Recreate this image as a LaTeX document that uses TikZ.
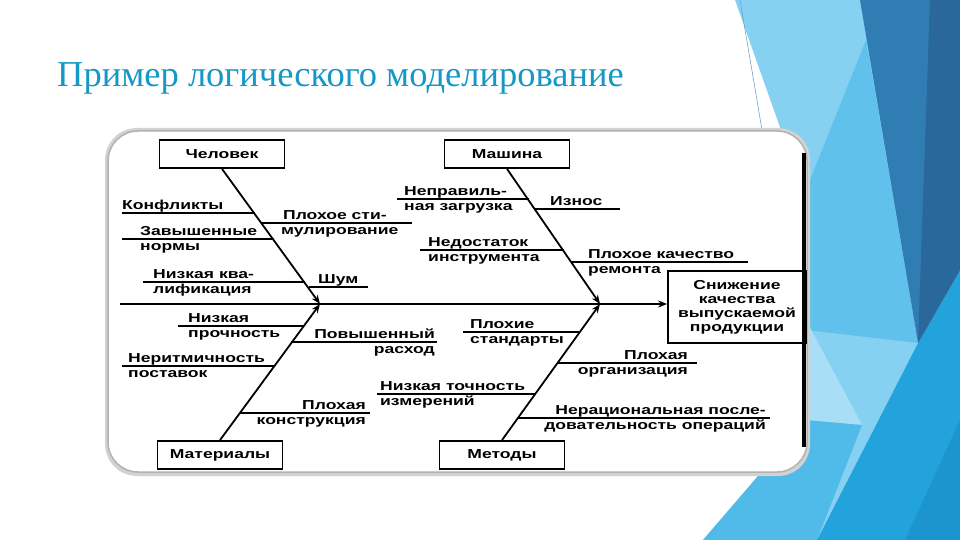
\documentclass[tikz,border=0pt]{standalone}
\usepackage{fontspec}
\usepackage{xcolor}
\usepackage{tikz}
\usetikzlibrary{arrows.meta, positioning, calc}

\newfontfamily\titlefont{Liberation Serif}
\newfontfamily\scanfont[FakeStretch=1.35]{Liberation Sans Bold}

\definecolor{titleblue}{RGB}{22,152,198}
\definecolor{paleblue}{RGB}{168,222,246}
\definecolor{lightblue}{RGB}{134,209,242}
\definecolor{skyblue}{RGB}{96,193,236}
\definecolor{lowblue}{RGB}{80,187,232}
\definecolor{brightblue}{RGB}{34,163,219}
\definecolor{edgeblue}{RGB}{28,149,207}
\definecolor{midblue}{RGB}{48,125,179}
\definecolor{deepblue}{RGB}{42,103,155}

\begin{document}
\begin{tikzpicture}[x=1pt, y=-1pt]
% Define styles
\tikzstyle{catbox} = [rectangle, draw=black, line width=1.8pt, minimum width=125pt, minimum height=28pt, inner sep=2pt, font=\scanfont\fontsize{13}{14}\selectfont]
\tikzstyle{effectbox} = [rectangle, draw=black, line width=1.8pt, minimum width=138pt, minimum height=72pt, inner sep=2pt, align=center, font=\scanfont\fontsize{13}{14}\selectfont]
\tikzstyle{lbl} = [inner sep=0pt, text height=9.5pt, text depth=2.5pt, font=\scanfont\fontsize{13}{14}\selectfont]
\tikzstyle{bone} = [line width=1.8pt, ->, >={Stealth[length=9pt, width=7pt]}]
\tikzstyle{twig} = [line width=1.6pt]

\useasboundingbox (0,0) rectangle (960,540);

% Slide background
\fill[lightblue] (735,0) -- (862,0) -- (918,343) -- (817,540) -- (703,540) -- (807,420) -- (800,157) -- (782,133) -- cycle;
\fill[skyblue] (866,40) -- (918,343) -- (806,330) -- (806,190) -- cycle;
\fill[paleblue] (806,320) -- (862,425) -- (806,470) -- cycle;
\fill[lowblue] (703,540) -- (806,420) -- (862,425) -- (817,540) -- cycle;
\fill[brightblue] (817,540) -- (918,343) -- (960,270) -- (960,540) -- cycle;
\fill[edgeblue] (905,540) -- (960,420) -- (960,540) -- cycle;
\fill[midblue] (860,0) -- (960,0) -- (960,270) -- (918,343) -- cycle;
\fill[deepblue] (930,0) -- (960,0) -- (960,270) -- (918,343) -- cycle;
\draw[midblue!70, line width=0.6pt] (740,0) -- (762,130);

% Title
\node[anchor=base west, inner sep=0pt, text=titleblue, font=\titlefont\fontsize{36.5}{40}\selectfont] (title) at (57,87) {Пример логического моделирование};

% Scanned sheet
\fill[gray!35, rounded corners=32pt] (105,128) rectangle (810,476);
\draw[gray!60, line width=1.5pt, fill=white, rounded corners=30pt] (108,131) rectangle (807,472);
\draw[black, line width=3.5pt] (804,153) -- (804,447);

% Nodes
\node[catbox] (chel) at (222,154) {Человек};
\node[catbox] (mash) at (507,154) {Машина};
\node[catbox] (mater) at (220,455) {Материалы};
\node[catbox] (metod) at (502,455) {Методы};
\node[effectbox] (effect) at (737,307) {Снижение\\качества\\выпускаемой\\продукции};

\coordinate (spineL) at (120,304);
\coordinate (hubL) at (320,304);
\coordinate (hubR) at (600,304);

% Connections
\draw[bone] (spineL) -- (spineL -| effect.west);
\draw[bone] (chel.south) -- (hubL);
\draw[bone] (mater.north) -- (hubL);
\draw[bone] (mash.south) -- (hubR);
\draw[bone] (metod.north) -- (hubR);

% Twigs: Человек
\coordinate (konfA) at (122,213); \coordinate (konfB) at (255,213);
\coordinate (zavA) at (122,239); \coordinate (zavB) at (274,239);
\coordinate (nkvA) at (143,282); \coordinate (nkvB) at (305,282);
\coordinate (stimA) at (262,223); \coordinate (stimB) at (412,223);
\coordinate (shumA) at (309,287); \coordinate (shumB) at (368,287);
\draw[twig] (konfA) -- (konfB);
\draw[twig] (zavA) -- (zavB);
\draw[twig] (nkvA) -- (nkvB);
\draw[twig] (stimA) -- (stimB);
\draw[twig] (shumA) -- (shumB);
\node[lbl, above right=1pt and 0pt of konfA] (konf) {Конфликты};
\node[lbl, above right=1pt and 18pt of zavA] (zav) {Завышенные};
\node[lbl, below right=2pt and 18pt of zavA] (zav2) {нормы};
\node[lbl, above right=1pt and 10pt of nkvA] (nkv) {Низкая ква-};
\node[lbl, below right=2pt and 10pt of nkvA] (nkv2) {лификация};
\node[lbl, above right=1pt and 21pt of stimA] (stim) {Плохое сти-};
\node[lbl, below right=2pt and 19pt of stimA] (stim2) {мулирование};
\node[lbl, above right=1pt and 9pt of shumA] (shum) {Шум};

% Twigs: Материалы
\coordinate (nprA) at (178,326); \coordinate (nprB) at (303,326);
\coordinate (povA) at (291,342); \coordinate (povB) at (437,342);
\coordinate (nerA) at (122,366); \coordinate (nerB) at (274,366);
\coordinate (pknA) at (240,413); \coordinate (pknB) at (370,413);
\draw[twig] (nprA) -- (nprB);
\draw[twig] (povA) -- (povB);
\draw[twig] (nerA) -- (nerB);
\draw[twig] (pknA) -- (pknB);
\node[lbl, above right=1pt and 10pt of nprA] (npr) {Низкая};
\node[lbl, below right=2pt and 10pt of nprA] (npr2) {прочность};
\node[lbl, above left=1pt and 2pt of povB] (pov) {Повышенный};
\node[lbl, below left=2pt and 2pt of povB] (pov2) {расход};
\node[lbl, above right=1pt and 6pt of nerA] (ner) {Неритмичность};
\node[lbl, below right=2pt and 6pt of nerA] (ner2) {поставок};
\node[lbl, above left=1pt and 4pt of pknB] (pkn) {Плохая};
\node[lbl, below left=2pt and 4pt of pknB] (pkn2) {конструкция};

% Twigs: Машина
\coordinate (zagA) at (397,199); \coordinate (zagB) at (529,199);
\coordinate (iznA) at (535,209); \coordinate (iznB) at (620,209);
\coordinate (insA) at (420,250); \coordinate (insB) at (564,250);
\coordinate (remA) at (572,262); \coordinate (remB) at (748,262);
\draw[twig] (zagA) -- (zagB);
\draw[twig] (iznA) -- (iznB);
\draw[twig] (insA) -- (insB);
\draw[twig] (remA) -- (remB);
\node[lbl, above right=1pt and 7pt of zagA] (zag) {Неправиль-};
\node[lbl, below right=2pt and 7pt of zagA] (zag2) {ная загрузка};
\node[lbl, above right=1pt and 15pt of iznA] (izn) {Износ};
\node[lbl, above right=1pt and 8pt of insA] (ins) {Недостаток};
\node[lbl, below right=2pt and 8pt of insA] (ins2) {инструмента};
\node[lbl, above right=1pt and 16pt of remA] (rem) {Плохое качество};
\node[lbl, below right=2pt and 16pt of remA] (rem2) {ремонта};

% Twigs: Методы
\coordinate (stdA) at (463,332); \coordinate (stdB) at (579,332);
\coordinate (orgA) at (557,363); \coordinate (orgB) at (697,363);
\coordinate (tchA) at (377,394); \coordinate (tchB) at (535,394);
\coordinate (racA) at (518,418); \coordinate (racB) at (770,418);
\draw[twig] (stdA) -- (stdB);
\draw[twig] (orgA) -- (orgB);
\draw[twig] (tchA) -- (tchB);
\draw[twig] (racA) -- (racB);
\node[lbl, above right=1pt and 7pt of stdA] (std) {Плохие};
\node[lbl, below right=2pt and 7pt of stdA] (std2) {стандарты};
\node[lbl, above left=1pt and 9pt of orgB] (org) {Плохая};
\node[lbl, below left=2pt and 9pt of orgB] (org2) {организация};
\node[lbl, above right=1pt and 3pt of tchA] (tch) {Низкая точность};
\node[lbl, below right=2pt and 3pt of tchA] (tch2) {измерений};
\node[lbl, above left=1pt and 4pt of racB] (rac) {Нерациональная после-};
\node[lbl, below left=2pt and 4pt of racB] (rac2) {довательность операций};

\end{tikzpicture}
\end{document}
